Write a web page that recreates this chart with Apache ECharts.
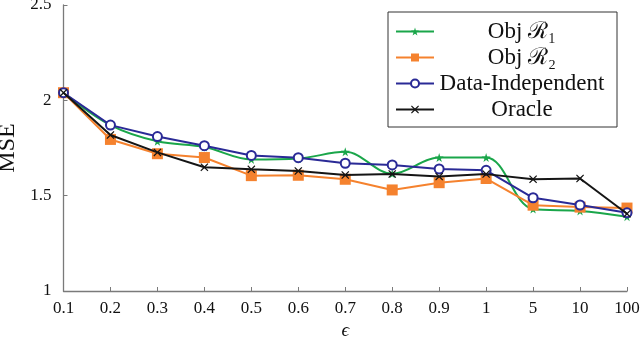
<!DOCTYPE html>
<html>
<head>
<meta charset="utf-8">
<script src="https://cdn.jsdelivr.net/npm/echarts@6/dist/echarts.min.js"></script>
<style>html,body{margin:0;padding:0;background:#fff}#c{width:640px;height:340px}</style>
</head>
<body>
<div id="c"></div>
<script>
const categories = ['0.1','0.2','0.3','0.4','0.5','0.6','0.7','0.8','0.9','1','5','10','100'];
const objR1 = [2.04, 1.87, 1.785, 1.755, 1.69, 1.695, 1.73, 1.615, 1.70, 1.70, 1.43, 1.42, 1.39];
const objR2 = [2.04, 1.795, 1.72, 1.70, 1.605, 1.607, 1.586, 1.53, 1.568, 1.59, 1.45, 1.44, 1.435];
const dataIndependent = [2.04, 1.87, 1.81, 1.762, 1.711, 1.699, 1.67, 1.661, 1.64, 1.633, 1.489, 1.451, 1.41];
const oracle = [2.04, 1.818, 1.727, 1.649, 1.638, 1.629, 1.608, 1.614, 1.60, 1.613, 1.586, 1.59, 1.405];
const yTicks = [1, 1.5, 2, 2.5];
const seriesNames = ['Obj ℛ₁', 'Obj ℛ₂', 'Data-Independent', 'Oracle'];

const FONT = 'Liberation Serif';
const starPath = 'path://M50,0 L61,35 L98,35 L68,57 L79,91 L50,70 L21,91 L32,57 L2,35 L39,35 Z';
const xPath = 'path://M10,0 L50,38 L90,0 L100,10 L62,50 L100,90 L90,100 L50,62 L10,100 L0,90 L38,50 L0,10 Z';

const chart = echarts.init(document.getElementById('c'), null, {renderer: 'canvas'});
chart.setOption({
  animation: false,
  backgroundColor: '#fff',
  grid: {left: 63.5, right: 13, top: 5, bottom: 49, containLabel: false, outerBoundsMode: 'none'},
  xAxis: {
    type: 'category',
    data: categories,
    boundaryGap: false,
    name: 'ϵ',
    nameLocation: 'middle',
    nameGap: 22,
    nameTextStyle: {fontFamily: FONT, fontSize: 19, fontStyle: 'italic', color: '#111'},
    axisLine: {lineStyle: {color: '#7a7a7a', width: 1.3}},
    axisTick: {inside: true, length: 4, alignWithLabel: true, lineStyle: {color: '#7a7a7a'}},
    axisLabel: {fontFamily: FONT, fontSize: 17, color: '#111', margin: 9},
    splitLine: {show: false}
  },
  yAxis: {
    type: 'value',
    min: yTicks[0],
    max: yTicks[yTicks.length - 1],
    interval: 0.5,
    name: 'MSE',
    nameLocation: 'middle',
    nameRotate: 90,
    nameGap: 42,
    nameTextStyle: {fontFamily: FONT, fontSize: 24, color: '#111'},
    axisLine: {show: true, lineStyle: {color: '#7a7a7a', width: 1.3}},
    axisTick: {show: true, inside: true, length: 4, lineStyle: {color: '#7a7a7a'}},
    axisLabel: {fontFamily: FONT, fontSize: 17, color: '#111', margin: 12},
    splitLine: {show: false}
  },
  legend: {
    orient: 'vertical',
    left: 388,
    top: 12,
    width: 228,
    padding: [8, 12, 6, 7],
    itemGap: 3,
    itemWidth: 38,
    itemHeight: 10,
    itemTextGap: 5,
    borderColor: '#333',
    borderWidth: 1,
    backgroundColor: '#fff',
    data: seriesNames,
    formatter: function (n) { return '{t|' + n + '}'; },
    textStyle: {
      rich: {t: {fontFamily: FONT, fontSize: 23, color: '#111', width: 166, align: 'center', lineHeight: 20}}
    }
  },
  series: [
    {name: seriesNames[0], type: 'line', data: objR1, smooth: 0.35,
     symbol: starPath, symbolSize: 9,
     lineStyle: {color: '#1aa64a', width: 2}, itemStyle: {color: '#1aa64a'}, z: 2},
    {name: seriesNames[1], type: 'line', data: objR2,
     symbol: 'rect', symbolSize: 11,
     lineStyle: {color: '#f5822e', width: 2}, itemStyle: {color: '#f5822e'}, z: 3},
    {name: seriesNames[2], type: 'line', data: dataIndependent,
     symbol: 'emptyCircle', symbolSize: 9,
     lineStyle: {color: '#2a2a96', width: 2}, itemStyle: {color: '#2a2a96', borderWidth: 2}, z: 4},
    {name: seriesNames[3], type: 'line', data: oracle,
     symbol: xPath, symbolSize: 8,
     lineStyle: {color: '#151515', width: 2}, itemStyle: {color: '#151515'}, z: 5}
  ]
});
</script>
</body>
</html>
